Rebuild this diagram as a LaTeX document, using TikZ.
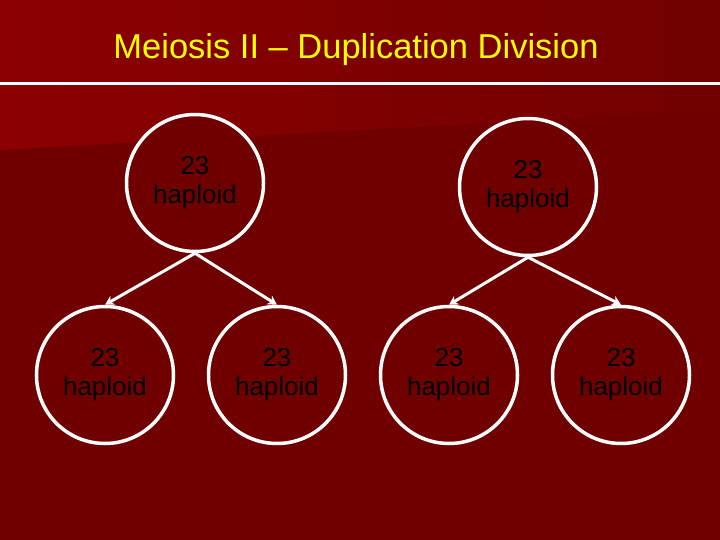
\documentclass[tikz,border=0pt]{standalone}
\usepackage{fontspec}
\setmainfont{Liberation Sans}
\usetikzlibrary{arrows.meta}
\definecolor{bglight}{HTML}{8C0000}
\definecolor{bgdark}{HTML}{700000}
\definecolor{titleyellow}{HTML}{FFFF00}

\begin{document}
\begin{tikzpicture}[x=1pt,y=-1pt,
    cell/.style={circle,draw=white,line width=3.5pt,fill=bgdark,
      minimum size=137pt,inner sep=0pt,align=center,
      font=\fontsize{26}{29}\selectfont,text=black},
    split/.style={draw=white,line width=3pt,
      -{Stealth[length=9pt,width=10pt]}}]
  % Le fond
  \fill[bgdark] (0,0) rectangle (720,540);
  \shade[left color=bglight,right color=bgdark!95!bglight]
      (0,0) -- (720,0) -- (720,110) -- (0,150) -- cycle;
  \useasboundingbox (0,0) rectangle (720,540);
  % Le titre
  \node[text=titleyellow,font=\fontsize{34.5}{38}\selectfont] (title) at (356,50)
      {Meiosis II -- Duplication Division};
  \draw[white,line width=3pt] (0,84) -- (720,84);
  % Les cellules
  \node[cell] (parentL) at (195,183) {23\\haploid};
  \node[cell] (parentR) at (528,187) {23\\haploid};
  \node[cell] (childA) at (105,375) {23\\haploid};
  \node[cell] (childB) at (277,375) {23\\haploid};
  \node[cell] (childC) at (449,375) {23\\haploid};
  \node[cell] (childD) at (621,375) {23\\haploid};
  % Les fleches
  \draw[split] (parentL.south) -- (childA.north);
  \draw[split] (parentL.south) -- (childB.north);
  \draw[split] (parentR.south) -- (childC.north);
  \draw[split] (parentR.south) -- (childD.north);
\end{tikzpicture}
\end{document}
